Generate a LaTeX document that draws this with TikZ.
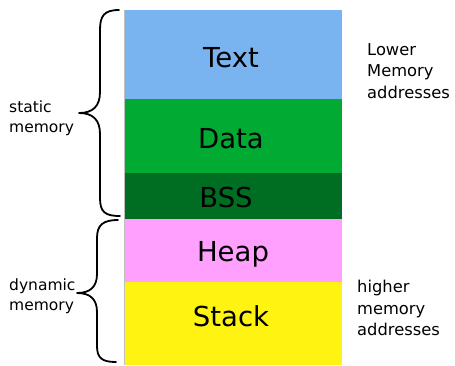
\documentclass[tikz,border=0pt]{standalone}
\usepackage{fontspec}
\setmainfont{DejaVu Sans}
\definecolor{textblue}{RGB}{122,180,240}
\definecolor{datagreen}{RGB}{0,170,51}
\definecolor{bssgreen}{RGB}{0,110,34}
\definecolor{heappink}{RGB}{255,160,255}
\definecolor{stackyellow}{RGB}{255,243,17}
\begin{document}
\begin{tikzpicture}[x=1pt,y=-1pt,
  blk/.style={draw=none,inner sep=0pt,minimum width=217pt},
  big/.style={font=\fontsize{27.5}{32}\selectfont,anchor=base,inner sep=0pt},
  side/.style={font=\fontsize{16.3}{21.5}\selectfont,align=left,anchor=north west,inner sep=0pt},
  lside/.style={font=\fontsize{15.5}{19.5}\selectfont,align=left,anchor=north west,inner sep=0pt},
  brace/.style={line width=1.8pt,line cap=round,line join=round}]
\useasboundingbox (0,0) rectangle (455,365);
\node[blk,fill=textblue,minimum height=89pt] (text) at (233.5,54.5) {};
\node[blk,fill=datagreen,minimum height=74pt] (data) at (233.5,136) {};
\node[blk,fill=bssgreen,minimum height=46pt] (bss) at (233.5,196) {};
\node[blk,fill=heappink,minimum height=63pt] (heap) at (233.5,250.5) {};
\node[blk,fill=stackyellow,minimum height=83pt] (stack) at (233.5,323.5) {};
\draw[black!25,line width=0.8pt] (text.north west) -- (stack.south west);
\node[big] (ltext) at (231,67) {Text};
\node[big] (ldata) at (231,148) {Data};
\node[big] (lbss) at (226,207) {BSS};
\node[big] (lheap) at (233,261) {Heap};
\node[big] (lstack) at (231,326) {Stack};
\node[side] (lower) at (367,43) {Lower\\Memory\\addresses};
\node[side] (higher) at (357,280) {higher\\memory\\addresses};
\node[lside] (static) at (9,101) {static\\memory};
\node[lside] (dynamic) at (9,279) {dynamic\\memory};
\draw[brace] (119,10) .. controls (104,10) and (100,16) .. (100,30) -- (100,92)
  .. controls (100,106) and (93,113) .. (79,113)
  .. controls (93,113) and (100,120) .. (100,134) -- (100,198)
  .. controls (100,212) and (105,216) .. (120,216);
\draw[brace] (118,220) .. controls (103,220) and (97,225) .. (97,238) -- (97,274)
  .. controls (97,287) and (90,293) .. (77,293)
  .. controls (90,293) and (97,299) .. (97,312) -- (97,346)
  .. controls (97,358) and (102,362) .. (116,362);
\end{tikzpicture}
\end{document}
